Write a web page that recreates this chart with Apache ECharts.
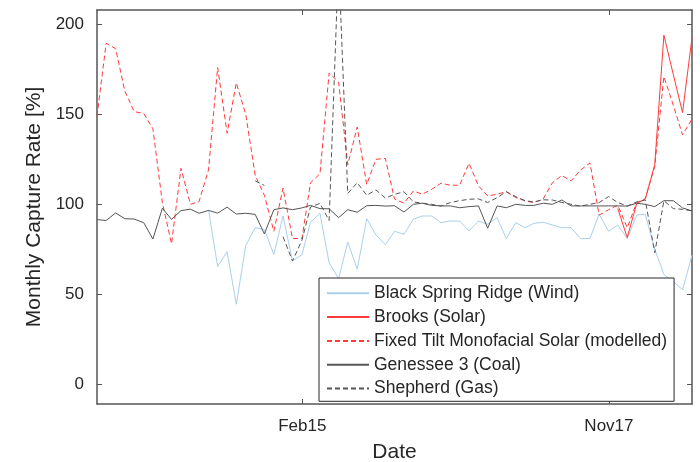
<!DOCTYPE html>
<html>
<head>
<meta charset="utf-8">
<script src="https://cdn.jsdelivr.net/npm/echarts@6/dist/echarts.min.js"></script>
<style>
html, body { margin: 0; padding: 0; background: #fff; }
#main { width: 700px; height: 462px; }
</style>
</head>
<body>
<div id="main"></div>
<script>
// monthly data, one point per month (month-end)
var months = [
    '2013-03','2013-04','2013-05','2013-06','2013-07','2013-08','2013-09','2013-10','2013-11','2013-12',
    '2014-01','2014-02','2014-03','2014-04','2014-05','2014-06','2014-07','2014-08','2014-09','2014-10','2014-11','2014-12',
    '2015-01','2015-02','2015-03','2015-04','2015-05','2015-06','2015-07','2015-08','2015-09','2015-10','2015-11','2015-12',
    '2016-01','2016-02','2016-03','2016-04','2016-05','2016-06','2016-07','2016-08','2016-09','2016-10','2016-11','2016-12',
    '2017-01','2017-02','2017-03','2017-04','2017-05','2017-06','2017-07','2017-08','2017-09','2017-10','2017-11','2017-12',
    '2018-01','2018-02','2018-03','2018-04','2018-05','2018-06','2018-07'
];

var wind = [
    null, null, null, null, null, null, null, null, null, null,
    null, null, 97, 65.4, 73.7, 44.4, 77, 87, 86, 72, 93.5, 68.5,
    72, 90, 95, 67.5, 58.7, 79, 64, 92, 83, 77.5, 85, 83.3,
    91.7, 93.5, 93.5, 89.8, 90.7, 90.7, 85.2, 90.7, 88.9, 92.6, 80.9, 89.8,
    87, 89.4, 90, 88.5, 87, 87, 81, 81, 94.5, 85, 88.5, 81,
    94, 94.5, 75, 61, 57, 52.5, 71.7
];

var brooks = [
    null, null, null, null, null, null, null, null, null, null,
    null, null, null, null, null, null, null, null, null, null, null, null,
    null, null, null, null, null, null, null, null, null, null, null, null,
    null, null, null, null, null, null, null, null, null, null, null, null,
    null, null, null, null, null, null, null, null, null, null, 97.6, 81.5,
    100.4, 103, 122, 194, 172, 151, 192.6
];

var fixedTilt = [
    149, 189.5, 186.5, 163, 151.5, 150.5, 142, 101, 78, 120,
    100, 101.5, 119, 176, 139.5, 167.5, 150, 116, 105, 85, 109, 81,
    81, 112, 117, 173, 168, 122, 143, 111, 125, 125.5, 103, 100.6,
    107.4, 105.6, 108.3, 111.7, 110.6, 110.6, 122.8, 110.2, 104.6, 105.6, 107, 103.7,
    101.9, 100.9, 103, 112, 116, 113, 119, 123, 94, 97, 99.5, 87,
    101, 103, 121, 171, 155, 138.6, 147.4
];

var genessee = [
    91.5, 91, 95.2, 92, 91.8, 89.8, 80.7, 97.8, 91.6, 96.5,
    97.3, 95, 96.6, 95.1, 98.4, 94.6, 95, 94.4, 83.5, 97, 98, 97,
    98, 99.4, 97.6, 97.5, 92.6, 97, 95.6, 99.2, 99.4, 99, 99.2, 95.7,
    100, 100.6, 99.4, 99.1, 99.1, 98.1, 98.7, 99.1, 86.7, 99.1, 98.1, 100,
    99.4, 99.4, 100.6, 100, 102.4, 99.1, 99.1, 99.1, 99.1, 99.1, 99.1, 99,
    100.6, 100, 98.7, 102, 102, 98, 96.3
];

var shepherd = [
    null, null, null, null, null, null, null, null, null, null,
    null, null, null, null, null, null, null, 113, 110.5, null, 82, 68.5,
    80, 98.5, 100.5, 91, 236, 106, 112, 105, 108, 103.5, 105.5, 107,
    101.3, 100.6, 100, 99, 101, 102, 102.8, 103, 101, 103.7, 107, 104.3,
    102, 101.3, 102.5, 102.4, 101, 100, 99, 100, 101, 104.3, 101, 99,
    101.3, 102.4, 73, 102, 97.6, 97.2, 96.3
];

var seriesNames = [
    'Black Spring Ridge (Wind)',
    'Brooks (Solar)',
    'Fixed Tilt Monofacial Solar (modelled)',
    'Genessee 3 (Coal)',
    'Shepherd (Gas)'
];

var xTickDates = ['2015-02-01', '2017-11-01'];
var xTickLabels = ['Feb15', 'Nov17'];
var yTicks = [0, 50, 100, 150, 200];

function monthEnd(m) {
    var p = m.split('-');
    return new Date(+p[0], +p[1], 0).getTime();
}
function dayStart(d) {
    var p = d.split('-');
    return new Date(+p[0], +p[1] - 1, +p[2]).getTime();
}
function pairs(vals) {
    return months.map(function (m, i) {
        return [monthEnd(m), vals[i] == null ? '-' : vals[i]];
    });
}

var xTicks = xTickDates.map(dayStart);
var xMin = monthEnd(months[0]);
var xMax = monthEnd(months[months.length - 1]);

var txt = '#262626';
var axisCol = '#555555';
var font = 'Liberation Sans, Arial, Helvetica, sans-serif';

var dom = document.getElementById('main');
var myChart = echarts.init(dom, null, { renderer: 'canvas' });

function mkLine(name, vals, color, dashed) {
    return {
        name: name,
        type: 'line',
        data: pairs(vals),
        symbol: 'none',
        showSymbol: false,
        connectNulls: false,
        animation: false,
        lineStyle: { color: color, width: 1, type: dashed ? [5, 3] : 'solid' },
        itemStyle: { color: color }
    };
}

var option = {
    backgroundColor: '#fff',
    animation: false,
    textStyle: { fontFamily: font },
    grid: { left: 97, right: 8, top: 10, bottom: 58, containLabel: false, outerBoundsMode: 'none' },
    legend: {
        orient: 'vertical',
        left: 319,
        top: 278,
        data: seriesNames,
        itemWidth: 42,
        itemHeight: 14,
        itemGap: 5.8,
        padding: [6.3, 7, 3.8, 7],
        backgroundColor: '#fff',
        borderColor: '#262626',
        borderWidth: 1,
        borderRadius: 0,
        itemStyle: { opacity: 0 },
        textStyle: { color: txt, fontSize: 17.5, fontFamily: font, lineHeight: 17.5 },
        z: 10
    },
    xAxis: [{
        type: 'value',
        min: xMin,
        max: xMax,
        name: 'Date',
        nameLocation: 'middle',
        nameGap: 38,
        nameTextStyle: { color: txt, fontSize: 21, fontFamily: font },
        axisLine: { show: true, onZero: false, lineStyle: { color: axisCol, width: 1.5 } },
        axisTick: { show: true, inside: true, length: 5, customValues: xTicks, lineStyle: { color: axisCol } },
        axisLabel: {
            show: true,
            customValues: xTicks,
            color: txt,
            fontSize: 17,
            margin: 14,
            fontFamily: font,
            formatter: function (val) {
                var k = xTicks.indexOf(val);
                return k >= 0 ? xTickLabels[k] : '';
            }
        },
        splitLine: { show: false }
    }, {
        type: 'value',
        position: 'top',
        min: xMin,
        max: xMax,
        axisLine: { show: true, onZero: false, lineStyle: { color: axisCol, width: 1.5 } },
        axisTick: { show: true, inside: true, length: 5, customValues: xTicks, lineStyle: { color: axisCol } },
        axisLabel: { show: false },
        splitLine: { show: false }
    }],
    yAxis: [{
        type: 'value',
        min: -11,
        max: 208,
        name: 'Monthly Capture Rate [%]',
        nameLocation: 'middle',
        nameGap: 45,
        nameTextStyle: { color: txt, fontSize: 21, fontFamily: font },
        axisLine: { show: true, onZero: false, lineStyle: { color: axisCol, width: 1.5 } },
        axisTick: { show: true, inside: true, length: 5, customValues: yTicks, lineStyle: { color: axisCol } },
        axisLabel: { show: true, customValues: yTicks, color: txt, fontSize: 17, margin: 13, fontFamily: font },
        splitLine: { show: false }
    }, {
        type: 'value',
        position: 'right',
        min: -11,
        max: 208,
        axisLine: { show: true, onZero: false, lineStyle: { color: axisCol, width: 1.5 } },
        axisTick: { show: true, inside: true, length: 5, customValues: yTicks, lineStyle: { color: axisCol } },
        axisLabel: { show: false },
        splitLine: { show: false }
    }],
    series: [
        mkLine(seriesNames[0], wind, '#a9d0ec', false),
        mkLine(seriesNames[1], brooks, '#ff3a3a', false),
        mkLine(seriesNames[2], fixedTilt, '#ff3a3a', true),
        mkLine(seriesNames[3], genessee, '#555555', false),
        mkLine(seriesNames[4], shepherd, '#555555', true)
    ]
};

option && myChart.setOption(option);
window.addEventListener('resize', myChart.resize);
</script>
</body>
</html>
